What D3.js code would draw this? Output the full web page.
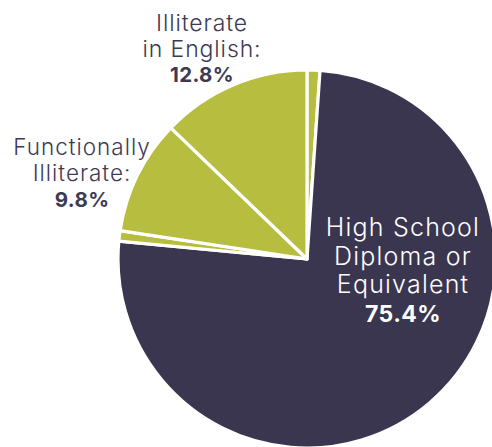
<!DOCTYPE html>
<html>
<head>
<meta charset="utf-8">
<script src="https://cdn.jsdelivr.net/npm/d3@7"></script>
<style>
  html, body { margin: 0; padding: 0; background: #ffffff; }
  svg { display: block; }
  text { font-family: "Inter", "Noto Sans", sans-serif; }
</style>
</head>
<body>
<svg id="chart" width="492" height="447"></svg>
<script>
// Educational attainment shares (percent), clockwise from 12 o'clock
const categories = ["Other", "High School Diploma or Equivalent", "Other (2)", "Functionally Illiterate", "Illiterate in English"];
const values = [1.1, 75.4, 0.9, 9.8, 12.8];
const sliceColors = ["#b6bd3f", "#3a3650", "#b6bd3f", "#b6bd3f", "#b6bd3f"];

// Labels: text lines plus a bold value line, with per-line baselines
const labels = [
  { lines: ["Illiterate", "in English:"], value: "12.8%", x: 202, baselines: [31, 57, 82],
    color: "#3d3a54", size: 23, spacing: 0.9, valueSize: 20.5 },
  { lines: ["Functionally", "Illiterate:"], value: "9.8%", x: 82, baselines: [155, 181, 207],
    color: "#3d3a54", size: 22.5, spacing: 1.0, valueSize: 20.5 },
  { lines: ["High School", "Diploma or", "Equivalent"], value: "75.4%", x: 403, baselines: [236, 265, 293, 322],
    color: "#ffffff", size: 25, spacing: 1.2, valueSize: 23 }
];

const svg = d3.select("#chart");
const cx = 307, cy = 259, radius = 189;

const pie = d3.pie().sort(null).value(d => d).startAngle(0).endAngle(2 * Math.PI);
const arc = d3.arc().innerRadius(0).outerRadius(radius);

const g = svg.append("g").attr("transform", `translate(${cx},${cy})`);
g.selectAll("path")
  .data(pie(values))
  .join("path")
  .attr("d", arc)
  .attr("fill", (d, i) => sliceColors[i])
  .attr("stroke", "#ffffff")
  .attr("stroke-width", 3.2)
  .attr("stroke-linejoin", "round");

// Each line is its own text element, centred on the label's x
labels.forEach(l => {
  const grp = svg.append("g").attr("fill", l.color).attr("text-anchor", "middle");
  l.lines.forEach((s, i) => {
    grp.append("text")
      .attr("x", l.x)
      .attr("y", l.baselines[i])
      .attr("font-size", l.size)
      .attr("font-weight", 300)
      .attr("letter-spacing", l.spacing)
      .text(s);
  });
  grp.append("text")
    .attr("x", l.x)
    .attr("y", l.baselines[l.lines.length])
    .attr("font-size", l.valueSize)
    .attr("font-weight", 700)
    .attr("letter-spacing", 0.4)
    .text(l.value);
});
</script>
</body>
</html>
